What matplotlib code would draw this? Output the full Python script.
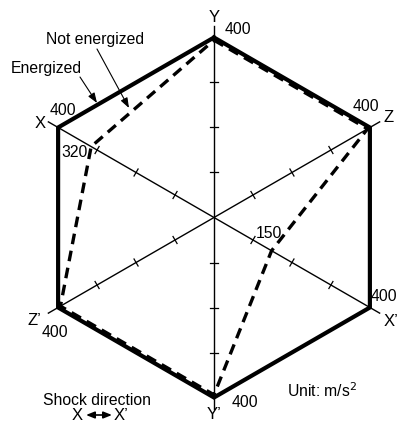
import numpy as np
import matplotlib
matplotlib.use("Agg")
import matplotlib.pyplot as plt

# ---- data ----
axes_names = ["Y", "Z", "X’", "Y’", "Z’", "X"]
angles_deg = [90, 30, -30, -90, 210, 150]
energized = [400, 400, 400, 400, 400, 400]
not_energized = [400, 400, 150, 400, 400, 320]
tick_values = [100, 200, 300]
value_labels = {"Y": "400", "Z": "400", "X’": "400", "Y’": "400", "Z’": "400", "X": "400"}

plt.rcParams['font.family'] = ['Liberation Sans', 'DejaVu Sans']

W, H = 399, 423
fig = plt.figure(figsize=(W / 100, H / 100), dpi=100)
ax = fig.add_axes([0, 0, 1, 1])
scale = 0.45  # px per unit
cx, cy = 214, 217.5
ax.set_xlim(-cx / scale, (W - cx) / scale)
ax.set_ylim(-(H - cy) / scale, cy / scale)
ax.axis("off")

FS = 11.3
FN = 12

ang = np.radians(angles_deg)
ux, uy = np.cos(ang), np.sin(ang)

# axes lines
ext = 425
for a in range(3):
    i, j = a, a + 3
    ax.plot([ux[i] * ext, ux[j] * ext], [uy[i] * ext, uy[j] * ext], color="black", lw=1.0, zorder=1)
# ticks
tl = 9
for i in range(6):
    px, py = -uy[i], ux[i]
    for t in tick_values:
        x0, y0 = ux[i] * t, uy[i] * t
        ax.plot([x0 - px * tl, x0 + px * tl], [y0 - py * tl, y0 + py * tl], color="black", lw=0.9, zorder=1)

# energized (solid)
e = np.array(energized + energized[:1], dtype=float)
uxc = np.append(ux, ux[0]); uyc = np.append(uy, uy[0])
ax.plot(e * uxc, e * uyc, color="black", lw=3.0, solid_joinstyle="miter", zorder=3)
# not energized (dashed), drawn slightly inside so it shows along shared edges
n = np.array(not_energized + not_energized[:1], dtype=float) * 0.985
ax.plot(n * uxc, n * uyc, color="black", lw=2.4, linestyle=(0, (3.2, 2.0)), zorder=4)

# labels
name_off = {"Y": (0, 20), "Z": (19, 10), "X’": (21, -14), "Y’": (0, -17), "Z’": (-24, -13), "X": (-18, 4)}
val_off = {"Y": (24, 8), "Z": (-4, 21), "X’": (14, 11), "Y’": (31, -5), "Z’": (-3, -25), "X": (5, 17)}
for i, nm in enumerate(axes_names):
    v = energized[i]
    pt = (ux[i] * v, uy[i] * v)
    ax.annotate(nm, pt, xytext=name_off[nm], textcoords="offset pixels", ha="center", va="center", fontsize=FN)
    ax.annotate(value_labels[nm], pt, xytext=val_off[nm], textcoords="offset pixels", ha="center", va="center", fontsize=FS)

# special value labels on not-energized
iX = axes_names.index("X"); iXp = axes_names.index("X’")
ax.annotate(str(not_energized[iX]), (ux[iX] * not_energized[iX], uy[iX] * not_energized[iX]),
            xytext=(-15, -7), textcoords="offset pixels", ha="center", va="center", fontsize=FS)
ax.annotate(str(not_energized[iXp]), (ux[iXp] * not_energized[iXp], uy[iXp] * not_energized[iXp]),
            xytext=(-4, 18), textcoords="offset pixels", ha="center", va="center", fontsize=FS)

def pix2data(px, py):
    return ((px - cx) / scale, (cy - py) / scale)

arrowprops = dict(arrowstyle="-|>,head_length=0.6,head_width=0.22", color="black", lw=0.8, shrinkA=0, shrinkB=0)
ax.annotate("", xy=pix2data(97, 103), xytext=pix2data(80, 77), arrowprops=arrowprops)
ax.annotate("", xy=pix2data(129, 108), xytext=pix2data(97, 49), arrowprops=arrowprops)
ax.text(*pix2data(46, 69), "Energized", ha="center", va="center", fontsize=FS)
ax.text(*pix2data(95, 39), "Not energized", ha="center", va="center", fontsize=FS)

ax.text(*pix2data(322, 391), "Unit: m/s$^2$", ha="center", va="center", fontsize=FS)
ax.text(*pix2data(97, 400), "Shock direction", ha="center", va="center", fontsize=FS)
ax.text(*pix2data(77, 415), "X", ha="center", va="center", fontsize=FN)
ax.text(*pix2data(121, 415), "X’", ha="center", va="center", fontsize=FN)
ax.annotate("", xy=pix2data(112, 415), xytext=pix2data(86, 415),
            arrowprops=dict(arrowstyle="<|-|>,head_length=0.5,head_width=0.2", color="black", lw=1.2,
                            shrinkA=0, shrinkB=0))

fig.savefig("out.png", dpi=100)
